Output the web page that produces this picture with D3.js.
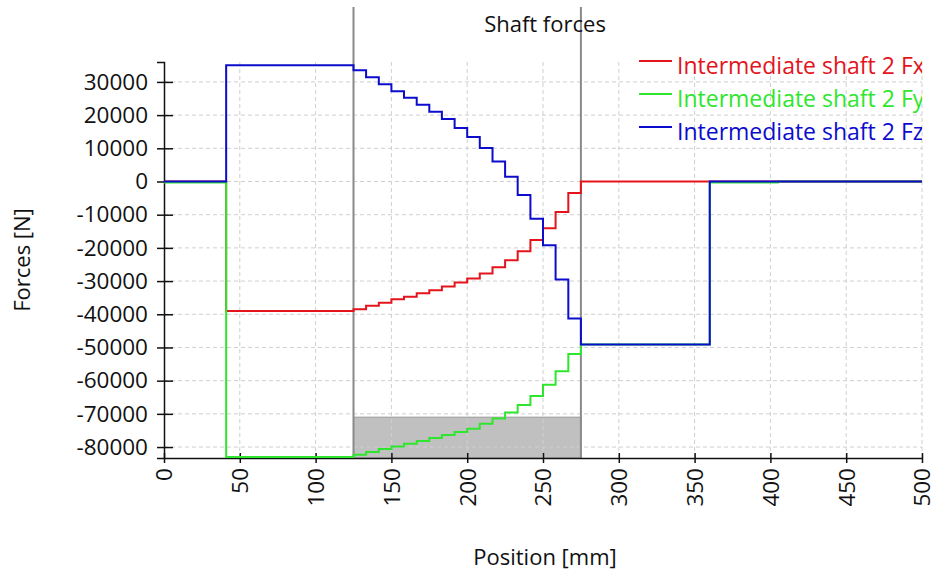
<!DOCTYPE html>
<html>
<head>
<meta charset="utf-8">
<script src="https://cdn.jsdelivr.net/npm/d3@7"></script>
<style>
  html, body { margin: 0; padding: 0; background: #fff; }
  svg { display: block; font-family: "Open Sans", "Noto Sans", sans-serif; }
</style>
</head>
<body>
<svg id="chart" width="938" height="580"></svg>
<script>
// Axial positions [mm] where each force level begins (step-after)
const positions = [0, 41, 125, 133.3, 141.7, 150, 158.3, 166.7, 175, 183.3, 191.7, 200,
  208.3, 216.7, 225, 233.3, 241.7, 250, 258.3, 266.7, 275, 360, 405, 500];

// Force components [N] along the intermediate shaft
const fx = [0, -39000, -38500, -37400, -36500, -35500, -34700, -33700, -32800, -31600,
  -30400, -29200, -27700, -25800, -23700, -21000, -17600, -14100, -9200, -3500,
  0, 0, 0, 0];
const fy = [-300, -83000, -82300, -81500, -80600, -79800, -79000, -78200, -77300, -76400,
  -75500, -74500, -73000, -71400, -69600, -67300, -64600, -61200, -57200, -52000,
  -49100, -300, 0, 0];
const fz = [0, 35000, 33500, 31400, 29300, 27200, 25200, 23100, 21000, 18800,
  16100, 13400, 10100, 6000, 1400, -4100, -11200, -19200, -29500, -41300,
  -49100, 0, 0, 0];

const seriesNames = ["Intermediate shaft 2 Fx", "Intermediate shaft 2 Fy", "Intermediate shaft 2 Fz"];
const seriesColors = ["#e3141c", "#2ee62e", "#0c0ccc"];

const xTicks = [0, 50, 100, 150, 200, 250, 300, 350, 400, 450, 500];
const yTicks = [-80000, -70000, -60000, -50000, -40000, -30000, -20000, -10000, 0, 10000, 20000, 30000];

// Gear mesh zone boundaries [mm] and the lower band level [N]
const zoneBounds = [125, 275];
const zoneLevel = -71000;

const xDomain = [0, 500];
const yDomain = [-83300, 36000];

const margin = { left: 164, right: 16, top: 62, bottom: 122 };
const W = 938, H = 580;
const svg = d3.select("#chart");

const x = d3.scaleLinear().domain(xDomain).range([margin.left, W - margin.right]);
const y = d3.scaleLinear().domain(yDomain).range([H - margin.bottom, margin.top]);

const plotLeft = x.range()[0], plotRight = x.range()[1];
const plotTop = y.range()[1], plotBottom = y.range()[0];

// Shaded zone band
svg.append("rect")
  .attr("x", x(zoneBounds[0]))
  .attr("y", y(zoneLevel))
  .attr("width", x(zoneBounds[1]) - x(zoneBounds[0]))
  .attr("height", plotBottom - y(zoneLevel))
  .attr("fill", "#c0c0c0")
  .attr("stroke", "#9a9a9a")
  .attr("stroke-width", 1);

// Dashed grid
const grid = svg.append("g").attr("stroke", "#cfcfcf").attr("stroke-width", 1)
  .attr("stroke-dasharray", "4,3");
grid.selectAll(".gx").data(xTicks.filter(d => d > 0)).join("line")
  .attr("x1", d => x(d)).attr("x2", d => x(d))
  .attr("y1", plotTop).attr("y2", plotBottom);
grid.selectAll(".gy").data(yTicks).join("line")
  .attr("x1", plotLeft).attr("x2", plotRight)
  .attr("y1", d => y(d)).attr("y2", d => y(d));

// Zone boundary markers
svg.append("g").selectAll("line").data(zoneBounds).join("line")
  .attr("x1", d => x(d)).attr("x2", d => x(d))
  .attr("y1", 7).attr("y2", plotBottom)
  .attr("stroke", "#8a8a8a").attr("stroke-width", 2);

// Axes
const fontSize = 22;
const yAxis = svg.append("g")
  .attr("transform", `translate(${plotLeft},0)`)
  .call(d3.axisLeft(y).tickValues(yTicks).tickFormat(d => String(d)).tickSize(7).tickPadding(9));
yAxis.select(".domain").attr("stroke", "#111").attr("stroke-width", 1.5);
yAxis.selectAll(".tick line").attr("x1", 9).attr("x2", -7).attr("stroke", "#111").attr("stroke-width", 1.5);
yAxis.selectAll(".tick text").attr("font-size", 22.5).attr("font-family", "Open Sans").attr("fill", "#111");

const xAxis = svg.append("g")
  .attr("transform", `translate(0,${plotBottom})`)
  .call(d3.axisBottom(x).tickValues(xTicks).tickFormat(d => String(d)).tickSize(5).tickSizeOuter(0));
xAxis.select(".domain").attr("stroke", "#111").attr("stroke-width", 1.5);
xAxis.selectAll(".tick line").attr("y1", -5).attr("y2", 5).attr("stroke", "#111").attr("stroke-width", 1.5);
xAxis.selectAll(".tick text")
  .attr("font-size", 22.5).attr("font-family", "Open Sans").attr("fill", "#111")
  .attr("transform", "rotate(-90)")
  .attr("text-anchor", "end")
  .attr("x", -10).attr("y", 0).attr("dy", "0.35em");

// Force series as step lines
const series = [fx, fy, fz];
const line = d3.line()
  .x(d => x(d[0]))
  .y(d => y(d[1]))
  .curve(d3.curveStepAfter);

series.forEach((vals, i) => {
  const pts = positions.map((p, j) => [p, vals[j]]);
  svg.append("path")
    .datum(pts)
    .attr("fill", "none")
    .attr("stroke", seriesColors[i])
    .attr("stroke-width", 2)
    .attr("d", line);
});

// Axis titles
svg.append("text")
  .attr("transform", `translate(30,${(plotTop + plotBottom) / 2}) rotate(-90)`)
  .attr("text-anchor", "middle")
  .attr("font-size", fontSize).attr("fill", "#111")
  .text("Forces [N]");
svg.append("text")
  .attr("x", (plotLeft + plotRight) / 2 + 2).attr("y", 565)
  .attr("text-anchor", "middle")
  .attr("font-size", fontSize).attr("fill", "#111")
  .text("Position [mm]");

// Title
svg.append("text")
  .attr("x", 545).attr("y", 32)
  .attr("text-anchor", "middle")
  .attr("font-size", fontSize).attr("fill", "#111")
  .text("Shaft forces");

// Legend, clipped at the plot's right edge
svg.append("defs").append("clipPath").attr("id", "legendClip")
  .append("rect").attr("x", 0).attr("y", 0).attr("width", plotRight).attr("height", H);
const legend = svg.append("g").attr("clip-path", "url(#legendClip)");
seriesNames.forEach((name, i) => {
  const ly = 61 + i * 33;
  legend.append("line")
    .attr("x1", 639).attr("x2", 672).attr("y1", ly).attr("y2", ly)
    .attr("stroke", seriesColors[i]).attr("stroke-width", 2);
  legend.append("text")
    .attr("x", 677).attr("y", ly + 13)
    .attr("font-size", 23).attr("fill", seriesColors[i])
    .text(name);
});
</script>
</body>
</html>
